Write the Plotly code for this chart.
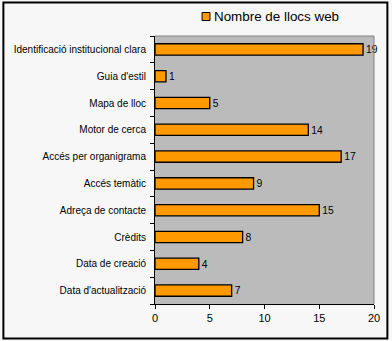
import plotly.graph_objects as go

categories = ["Identificació institucional clara", "Guia d'estil", "Mapa de lloc",
              "Motor de cerca", "Accés per organigrama", "Accés temàtic",
              "Adreça de contacte", "Crèdits", "Data de creació", "Data d'actualització"]
values = [19, 1, 5, 14, 17, 9, 15, 8, 4, 7]
series_name = "Nombre de llocs web"
x_ticks = [0, 5, 10, 15, 20]

W, H = 392, 341
L, R, T, B = 155, 16, 36, 37
pw, ph = W - L - R, H - T - B

def px(x):
    return (x - L) / pw

def py(y):
    return 1 - (y - T) / ph

BAR_COLOR = "#FF9900"

fig = go.Figure()
fig.add_trace(go.Bar(
    y=categories, x=values, orientation="h", name=series_name,
    marker=dict(color=BAR_COLOR, line=dict(color="black", width=1.3)),
    width=0.42,
    text=[str(v) for v in values], textposition="outside",
    textfont=dict(size=11, color="black", family="Liberation Sans, Arial"),
    cliponaxis=False, showlegend=False,
))

fig.update_layout(
    width=W, height=H,
    margin=dict(l=L, r=R, t=T, b=B, pad=0),
    paper_bgcolor="#F7F7F7", plot_bgcolor="#BBBBBB",
    font=dict(family="Liberation Sans, Arial", size=10, color="black"),
    showlegend=False,
    shapes=[
        dict(type="rect", xref="paper", yref="paper",
             x0=px(2), x1=px(389.5), y0=py(2.5), y1=py(338.5),
             line=dict(color="black", width=2), layer="below"),
        dict(type="line", xref="paper", yref="paper",
             x0=0, x1=1, y0=1, y1=1, line=dict(color="#808080", width=1)),
        dict(type="line", xref="paper", yref="paper",
             x0=1, x1=1, y0=0, y1=1, line=dict(color="#808080", width=1)),
        # legend key
        dict(type="rect", xref="paper", yref="paper",
             x0=px(202.5), x1=px(210.5), y0=py(12.5), y1=py(20.5),
             fillcolor=BAR_COLOR, line=dict(color="black", width=1)),
    ],
    annotations=[
        dict(text=series_name, xref="paper", yref="paper",
             x=px(213), y=py(16.5), xanchor="left", yanchor="middle",
             showarrow=False, font=dict(size=13.4, color="black")),
    ],
)
fig.update_xaxes(range=[0, 20], tickvals=x_ticks, ticks="outside", ticklen=4,
                 tickcolor="black", showline=True, linecolor="black", linewidth=1,
                 showgrid=False, zeroline=False, tickfont=dict(size=11))
fig.update_yaxes(categoryorder="array", categoryarray=categories[::-1],
                 ticks="outside", tickson="boundaries", ticklen=4, tickcolor="black",
                 showline=True, linecolor="black", linewidth=1, showgrid=False,
                 ticklabelstandoff=6, tickfont=dict(size=10))

fig.write_html("out.html")
